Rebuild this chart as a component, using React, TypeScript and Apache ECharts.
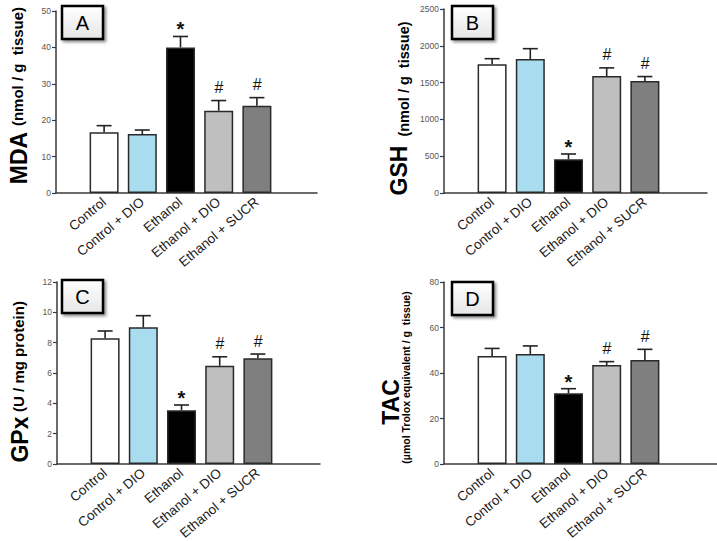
import React, { useEffect, useRef } from "react";
import * as echarts from "echarts";

const categories = ["Control", "Control + DIO", "Ethanol", "Ethanol + DIO", "Ethanol + SUCR"];
const barColors = ["#ffffff", "#a9dcef", "#000000", "#bfbfbf", "#7f7f7f"];
const sigMarks = ["", "", "*", "#", "#"];

const mdaValues = [16.7, 16.2, 40.0, 22.6, 24.0];
const mdaErrors = [1.8, 1.1, 3.0, 2.8, 2.2];
const gshValues = [1749, 1821, 458, 1590, 1522];
const gshErrors = [76, 140, 72, 110, 60];
const gpxValues = [8.29, 9.01, 3.54, 6.48, 6.97];
const gpxErrors = [0.48, 0.77, 0.35, 0.59, 0.28];
const tacValues = [47.5, 48.4, 31.1, 43.5, 45.7];
const tacErrors = [3.3, 3.5, 2.0, 1.5, 4.7];

const mdaTicks = { min: 0, max: 50, interval: 10 };
const gshTicks = { min: 0, max: 2500, interval: 500 };
const gpxTicks = { min: 0, max: 12, interval: 2 };
const tacTicks = { min: 0, max: 80, interval: 20 };

const panelLetters = ["A", "B", "C", "D"];

const FONT = "Liberation Sans, Arial, sans-serif";

export default function App() {
  const ref = useRef<HTMLDivElement>(null);
  useEffect(() => {
    if (!ref.current) return;
    const chart = echarts.init(ref.current, null, { renderer: "svg" });

    const panels = [
      { values: mdaValues, errors: mdaErrors, ticks: mdaTicks, axisX: 56, endX: 317, top: 11, bottom: 193 },
      { values: gshValues, errors: gshErrors, ticks: gshTicks, axisX: 444, endX: 707, top: 9, bottom: 193 },
      { values: gpxValues, errors: gpxErrors, ticks: gpxTicks, axisX: 57, endX: 320, top: 282, bottom: 464 },
      { values: tacValues, errors: tacErrors, ticks: tacTicks, axisX: 444, endX: 717, top: 282, bottom: 464 },
    ];
    const bandStart = 29;
    const band = 38.2;

    const grid: any[] = [];
    const xAxis: any[] = [];
    const yAxis: any[] = [];
    const series: any[] = [];

    panels.forEach((p, pi) => {
      const fi = pi * 2;
      const bi = pi * 2 + 1;
      grid.push({ left: p.axisX, width: p.endX - p.axisX, top: p.top, height: p.bottom - p.top, containLabel: false, outerBoundsMode: "none" });
      xAxis.push({
        gridIndex: fi, type: "value", min: 0, max: 1,
        axisLine: { show: true, lineStyle: { color: "#3a3a3a", width: 1.5 } },
        axisTick: { show: false }, axisLabel: { show: false }, splitLine: { show: false },
      });
      yAxis.push({
        gridIndex: fi, type: "value", min: p.ticks.min, max: p.ticks.max, interval: p.ticks.interval,
        axisLine: { show: true, lineStyle: { color: "#3a3a3a", width: 1.5 } },
        axisTick: { show: true, length: 4, lineStyle: { color: "#3a3a3a", width: 1.2 } },
        axisLabel: { show: true, fontSize: 8.5, color: "#555", fontFamily: FONT, margin: 5, formatter: (v: number) => String(v) },
        splitLine: { show: false },
      });
      grid.push({ left: p.axisX + bandStart, width: band * 5, top: p.top, height: p.bottom - p.top, containLabel: false, outerBoundsMode: "none" });
      xAxis.push({
        gridIndex: bi, type: "category", data: categories,
        axisLine: { show: false }, axisTick: { show: false },
        axisLabel: { show: true, rotate: 40, interval: 0, fontSize: 13.5, color: "#1a1a1a", fontFamily: FONT, margin: 7 },
      });
      yAxis.push({ gridIndex: bi, type: "value", min: p.ticks.min, max: p.ticks.max, show: false, splitLine: { show: false } });

      series.push({
        type: "bar", xAxisIndex: bi, yAxisIndex: bi, barWidth: 29,
        data: p.values.map((v, i) => ({ value: v, itemStyle: { color: barColors[i], borderColor: "#2a2a2a", borderWidth: 1.5 } })),
        silent: true,
      });
      const errs = p.errors;
      series.push({
        type: "custom", xAxisIndex: bi, yAxisIndex: bi, z: 5, silent: true,
        encode: { x: 0, y: 1 },
        data: p.values.map((v, i) => [i, v, errs[i]]),
        renderItem: (params: any, api: any) => {
          const i = api.value(0);
          const v = api.value(1);
          const e = api.value(2);
          const base = api.coord([i, v]);
          const top = api.coord([i, v + e]);
          const mark = sigMarks[params.dataIndex];
          const ls = { stroke: "#222", lineWidth: 1.6 };
          const children: any[] = [
            { type: "line", shape: { x1: base[0], y1: base[1], x2: top[0], y2: top[1] }, style: ls },
            { type: "line", shape: { x1: top[0] - 7.5, y1: top[1], x2: top[0] + 7.5, y2: top[1] }, style: ls },
          ];
          if (mark) {
            const star = mark === "*";
            children.push({
              type: "text", x: top[0], y: star ? top[1] + 3 : top[1] - 5,
              style: {
                text: mark, fontSize: star ? 20 : 16, fontStyle: star ? "normal" : "italic",
                fontWeight: star ? "bold" : "normal",
                fontFamily: FONT, fill: "#111", align: "center", verticalAlign: "bottom",
              },
            });
          }
          return { type: "group", children };
        },
      });
    });

    const rot = Math.PI / 2;
    const bigStyle = (t: string, size: number) => ({ text: t, fontSize: size, fontWeight: "bold", fontFamily: FONT, fill: "#000", align: "center", verticalAlign: "middle" });

    const graphic: any[] = [
      { type: "text", x: 18.5, y: 158, rotation: rot, style: bigStyle("MDA", 23) },
      { type: "text", x: 17.5, y: 66.5, rotation: rot, style: bigStyle("(nmol / g  tissue)", 15) },
      { type: "text", x: 399, y: 170.5, rotation: rot, style: bigStyle("GSH", 23) },
      { type: "text", x: 404, y: 79, rotation: rot, style: bigStyle("(nmol / g  tissue)", 14.5) },
      { type: "text", x: 19.5, y: 439.5, rotation: rot, style: bigStyle("GPx", 23) },
      { type: "text", x: 18.5, y: 356.5, rotation: rot, style: bigStyle("(U / mg protein)", 15) },
      { type: "text", x: 391, y: 402, rotation: rot, style: bigStyle("TAC", 23) },
      { type: "text", x: 406, y: 377.5, rotation: rot, style: bigStyle("(µmol Trolox equivalent / g  tissue)", 10.5) },
    ];

    const boxes = [
      { x: 62, y: 6 }, { x: 452, y: 6 }, { x: 62, y: 280 }, { x: 452, y: 282 },
    ];
    boxes.forEach((b, i) => {
      graphic.push({
        type: "rect", shape: { x: b.x, y: b.y, width: 41, height: 33 },
        style: {
          fill: new echarts.graphic.LinearGradient(0, 0, 0, 1, [
            { offset: 0, color: "#ffffff" }, { offset: 1, color: "#e6e6e6" },
          ]),
          stroke: "#000", lineWidth: 2.5,
          shadowBlur: 3, shadowOffsetX: 2, shadowOffsetY: 2, shadowColor: "rgba(0,0,0,0.45)",
        },
      });
      graphic.push({
        type: "text", x: b.x + 20.5, y: b.y + 17,
        style: { text: panelLetters[i], fontSize: 20, fontFamily: FONT, fill: "#000", align: "center", verticalAlign: "middle" },
      });
    });

    chart.setOption({
      animation: false,
      backgroundColor: "#ffffff",
      grid, xAxis, yAxis, series, graphic,
    });
    return () => chart.dispose();
  }, []);
  return <div ref={ref} style={{ position: "fixed", left: 0, top: 0, width: 717, height: 541 }} />;
}
